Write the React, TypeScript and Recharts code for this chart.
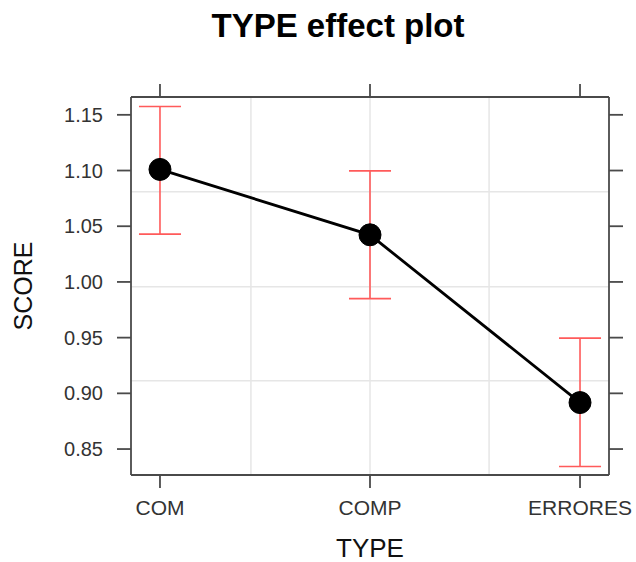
import React from 'react';
import { LineChart, Line, XAxis, YAxis, ErrorBar, ReferenceLine, Label } from 'recharts';

const categories = ['COM', 'COMP', 'ERRORES'];
const positions = [1, 2, 3];
const fitValues = [1.101, 1.0423, 0.8917];
const lowerValues = [1.0429, 0.985, 0.8343];
const upperValues = [1.1575, 1.0997, 0.9496];
const yTicks = [0.85, 0.9, 0.95, 1.0, 1.05, 1.1, 1.15];
const gridYValues = [1.081, 0.9956, 0.9112];
const gridXValues = [1.433, 2, 2.567];
const xDomain = [0.862, 3.138];
const yDomain = [0.8267, 1.166];

const FONT = '"Liberation Sans", Arial, Helvetica, sans-serif';
const FRAME = '#4a4a4a';

const data = positions.map((x, i) => ({
  x,
  fit: fitValues[i],
  err: [fitValues[i] - lowerValues[i], upperValues[i] - fitValues[i]],
}));

const emptyTick = () => <g />;

export default function App() {
  return (
    <div style={{ position: 'absolute', left: 0, top: 0, width: 636, height: 562, background: '#fff', fontFamily: FONT }}>
      <div
        style={{
          position: 'absolute',
          left: 338,
          top: 9,
          transform: 'translateX(-50%)',
          fontSize: 33,
          lineHeight: 1,
          fontWeight: 'bold',
          color: '#000',
          whiteSpace: 'nowrap',
          fontFamily: FONT,
        }}
      >
        TYPE effect plot
      </div>
      <LineChart width={636} height={562} data={data} margin={{ top: 96, right: 26, bottom: 0, left: 0 }}>
        <XAxis
          xAxisId="b"
          dataKey="x"
          type="number"
          domain={xDomain}
          ticks={positions}
          interval={0}
          allowDataOverflow
          orientation="bottom"
          height={87}
          tickSize={13}
          tickMargin={12}
          stroke={FRAME}
          strokeWidth={1.8}
          tickFormatter={(v: number) => categories[Math.round(v) - 1] ?? ''}
          tick={{ fontSize: 21, fill: '#333', fontFamily: FONT }}
        >
          <Label
            content={(props: any) => {
              const vb = props.viewBox || { x: 131, y: 475, width: 478, height: 87 };
              const cx = vb.x + vb.width / 2;
              const cy = vb.y + 73;
              return (
                <text x={cx} y={cy} textAnchor="middle" dominantBaseline="central" fontSize={26} fill="#111" fontFamily={FONT}>
                  TYPE
                </text>
              );
            }}
          />
        </XAxis>
        <XAxis
          xAxisId="t"
          dataKey="x"
          type="number"
          domain={xDomain}
          ticks={positions}
          interval={0}
          allowDataOverflow
          orientation="top"
          height={1}
          tickSize={13}
          stroke={FRAME}
          strokeWidth={1.8}
          tick={emptyTick}
        />
        <YAxis
          yAxisId="l"
          type="number"
          domain={yDomain}
          ticks={yTicks}
          interval={0}
          allowDataOverflow
          orientation="left"
          width={131}
          tickSize={14}
          tickMargin={14}
          stroke={FRAME}
          strokeWidth={1.8}
          tickFormatter={(v: number) => v.toFixed(2)}
          tick={{ fontSize: 20, fill: '#333', fontFamily: FONT }}
        >
          <Label
            content={(props: any) => {
              const vb = props.viewBox || { x: 0, y: 97, width: 131, height: 378 };
              const cx = vb.x + 23;
              const cy = vb.y + vb.height / 2;
              return (
                <text
                  x={cx}
                  y={cy}
                  textAnchor="middle"
                  dominantBaseline="central"
                  transform={`rotate(-90 ${cx} ${cy})`}
                  fontSize={25}
                  fill="#111"
                  fontFamily={FONT}
                >
                  SCORE
                </text>
              );
            }}
          />
        </YAxis>
        <YAxis
          yAxisId="r"
          type="number"
          domain={yDomain}
          ticks={yTicks}
          interval={0}
          allowDataOverflow
          orientation="right"
          width={1}
          tickSize={14}
          stroke={FRAME}
          strokeWidth={1.8}
          tick={emptyTick}
        />
        {gridYValues.map((v) => (
          <ReferenceLine key={'gy' + v} y={v} xAxisId="b" yAxisId="l" stroke="#e6e6e6" strokeWidth={1.5} ifOverflow="hidden" />
        ))}
        {gridXValues.map((v) => (
          <ReferenceLine key={'gx' + v} x={v} xAxisId="b" yAxisId="l" stroke="#e6e6e6" strokeWidth={1.5} ifOverflow="hidden" />
        ))}
        <Line
          xAxisId="t"
          yAxisId="r"
          dataKey="fit"
          type="linear"
          stroke="none"
          strokeOpacity={0}
          dot={false}
          activeDot={false}
          legendType="none"
          isAnimationActive={false}
        />
        <Line
          xAxisId="b"
          yAxisId="l"
          dataKey="fit"
          type="linear"
          stroke="#000"
          strokeWidth={2.8}
          dot={{ r: 11, fill: '#000', stroke: '#000', strokeWidth: 1 }}
          activeDot={false}
          isAnimationActive={false}
        >
          <ErrorBar dataKey="err" direction="y" width={21} stroke="#ff5a5a" strokeWidth={1.6} isAnimationActive={false} />
        </Line>
      </LineChart>
    </div>
  );
}
